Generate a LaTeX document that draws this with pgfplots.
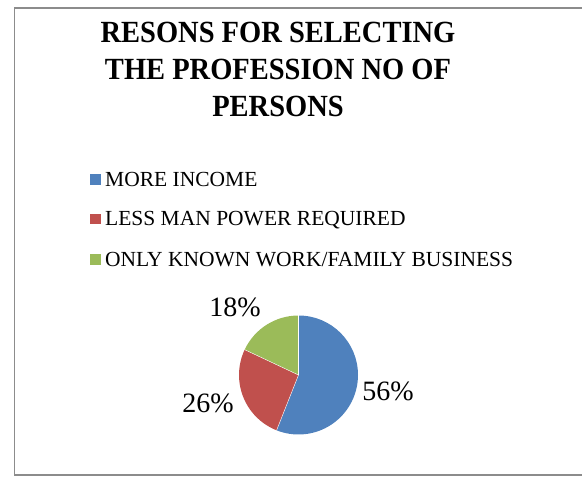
\documentclass[border=0pt]{standalone}
\usepackage{pgfplots}
\pgfplotsset{compat=1.18}
\usepackage{fontspec}
\setmainfont{Liberation Serif}
\definecolor{cBlue}{HTML}{4F81BD}
\definecolor{cRed}{HTML}{C0504D}
\definecolor{cGreen}{HTML}{9BBB59}
\definecolor{cFrame}{HTML}{8C8C8C}
% values (percent)
\def\vA{56}\def\vB{26}\def\vC{18}
\newcommand{\ttl}[1]{\scalebox{1}[1.08]{#1}}
\begin{document}
\begin{tikzpicture}
\begin{axis}[scale only axis, width=582bp, height=477bp,
  xmin=0, xmax=582, ymin=0, ymax=477, hide axis, clip=false]
% frame
\draw[cFrame, line width=1.5bp] (axis cs:590,469) -- (axis cs:14.5,469) -- (axis cs:14.5,2) -- (axis cs:590,2);
% title
\node[anchor=base, inner sep=0pt, font=\fontsize{28.5bp}{32bp}\selectfont\bfseries] at (axis cs:278,434.5) {\ttl{RESONS FOR SELECTING}};
\node[anchor=base, inner sep=0pt, font=\fontsize{28.5bp}{32bp}\selectfont\bfseries] at (axis cs:278,397.5) {\ttl{THE PROFESSION NO OF}};
\node[anchor=base, inner sep=0pt, font=\fontsize{28.5bp}{32bp}\selectfont\bfseries] at (axis cs:278,360) {\ttl{PERSONS}};
% legend
\fill[cBlue] (axis cs:90,292) rectangle (axis cs:100.7,302.7);
\node[anchor=base west, inner sep=0pt, font=\fontsize{21.5bp}{25bp}\selectfont] at (axis cs:105,290.5) {MORE INCOME};
\fill[cRed] (axis cs:90,252.5) rectangle (axis cs:100.7,263.2);
\node[anchor=base west, inner sep=0pt, font=\fontsize{21.5bp}{25bp}\selectfont] at (axis cs:105,251) {LESS MAN POWER REQUIRED};
\fill[cGreen] (axis cs:90,212) rectangle (axis cs:100.7,222.7);
\node[anchor=base west, inner sep=0pt, font=\fontsize{21.5bp}{25bp}\selectfont] at (axis cs:105,210.5) {ONLY KNOWN WORK/FAMILY BUSINESS};
% pie
\pgfmathsetmacro{\aA}{90}
\pgfmathsetmacro{\aB}{90-3.6*\vA}
\pgfmathsetmacro{\aC}{\aB-3.6*\vB}
\pgfmathsetmacro{\aD}{\aC-3.6*\vC}
\fill[cBlue] (axis cs:298.5,102) -- ++(\aA:59.5bp) arc[start angle=\aA, end angle=\aB, radius=59.5bp] -- cycle;
\fill[cRed] (axis cs:298.5,102) -- ++(\aB:59.5bp) arc[start angle=\aB, end angle=\aC, radius=59.5bp] -- cycle;
\fill[cGreen] (axis cs:298.5,102) -- ++(\aC:59.5bp) arc[start angle=\aC, end angle=\aD, radius=59.5bp] -- cycle;
\draw[white, line width=0.4bp] (axis cs:298.5,102) -- ++(\aA:59.5bp);
\draw[white, line width=0.4bp] (axis cs:298.5,102) -- ++(\aB:59.5bp);
\draw[white, line width=0.4bp] (axis cs:298.5,102) -- ++(\aC:59.5bp);
% data labels
\node[inner sep=0pt, font=\fontsize{28bp}{32bp}\selectfont] at (axis cs:388,86) {\vA\%};
\node[inner sep=0pt, font=\fontsize{28bp}{32bp}\selectfont] at (axis cs:208,73.7) {\vB\%};
\node[inner sep=0pt, font=\fontsize{28bp}{32bp}\selectfont] at (axis cs:235,170) {\vC\%};
\end{axis}
\pgfresetboundingbox
\useasboundingbox (0,0) rectangle (582bp,477bp);
\end{tikzpicture}
\end{document}
